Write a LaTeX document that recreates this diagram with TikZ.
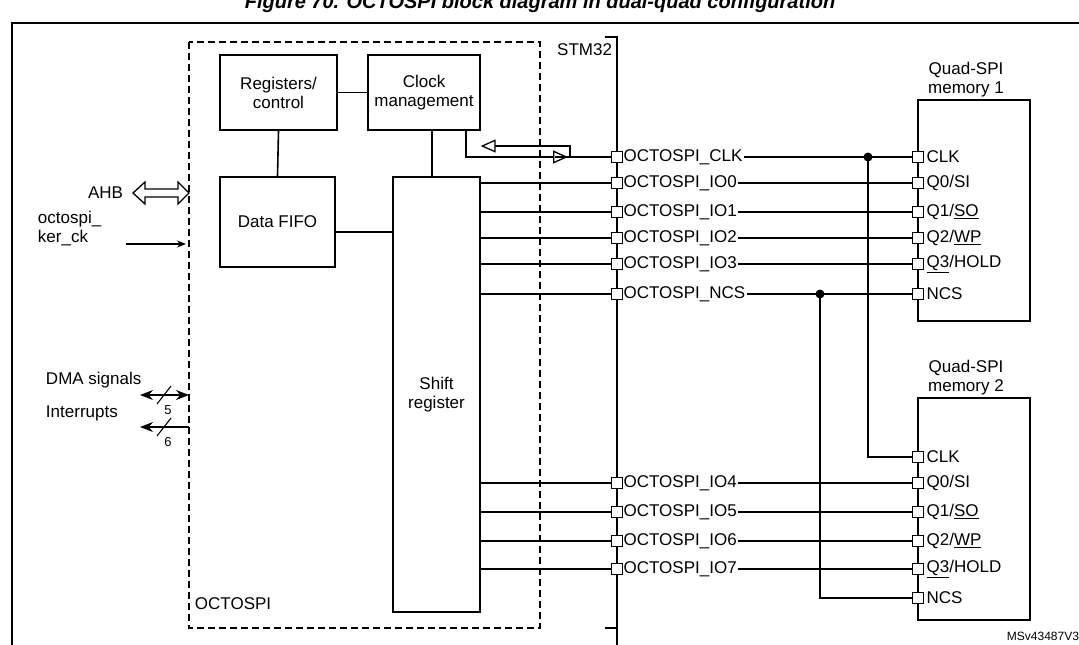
\documentclass[tikz,border=0pt]{standalone}
\usepackage{fontspec}
\setmainfont{Liberation Sans}
\usetikzlibrary{arrows.meta}

\begin{document}
\begin{tikzpicture}[x=1pt,y=-1pt, line width=1.3pt,
    font={\fontsize{17}{19}\selectfont},
    blk/.style={draw, align=center, inner sep=0pt},
    pin/.style={draw, fill=white, line width=1pt, minimum size=11pt, inner sep=0pt},
    sig/.style={anchor=west, inner sep=1pt},
    tri/.style={-{Triangle[open,length=15pt,width=13pt]}}]
    \clip (0,0) rectangle (1079,645);
    \useasboundingbox (0,0) rectangle (1079,645);

    \node[font={\fontsize{20}{22}\selectfont\bfseries\itshape}] (title) at (540,3) {Figure 70. OCTOSPI block diagram in dual-quad configuration};
    \draw (12,660) -- (12,23) -- (1090,23);

    % OCTOSPI block
    \draw[dash pattern=on 7pt off 4pt] (189,42) rectangle (540,628);
    \node[anchor=south west] (octo) at (191,614) {OCTOSPI};
    \node[blk, minimum width=117pt, minimum height=75pt] (regs) at (278.5,92.5) {Registers/\\control};
    \node[blk, minimum width=112pt, minimum height=75pt] (clk) at (424,92.5) {Clock\\management};
    \node[blk, minimum width=115pt, minimum height=90pt] (fifo) at (277.5,222) {Data FIFO};
    \node[blk, minimum width=87pt, minimum height=435pt] (shift) at (436.5,394.5) {Shift\\register};
    \draw[line width=1.6pt] (regs.east) -- (clk.west);
    \draw[line width=1.6pt] (regs.south) -- (fifo.north);
    \draw (clk.south -| 432,0) -- (shift.north -| 432,0);
    \draw (fifo.east |- 0,232) -- (shift.west |- 0,232);

    % STM32 boundary
    \draw (605,37) -- (617,37) -- (617,660);
    \draw (605,628) -- (617,628);
    \node[anchor=north east] (stm) at (616,40) {STM32};

    % STM32 pins
    \foreach \nm/\yy in {CLK/157, IO0/183, IO1/212, IO2/238, IO3/264, NCS/294, IO4/483, IO5/512, IO6/541, IO7/569} {
        \node[pin] (p\nm) at (617,\yy) {};
        \node[sig] (l\nm) at (622,\yy) {OCTOSPI\_\nm};
    }
    \foreach \nm in {IO0, IO1, IO2, IO3, NCS, IO4, IO5, IO6, IO7}
        \draw (shift.east |- p\nm) -- (p\nm);

    % clock feedback
    \coordinate (ckA) at (466,130);
    \coordinate (ckB) at (570,157);
    \draw[tri] (ckA) -- (466,157) -- (568,157);
    \draw (555,157) -- (pCLK);
    \draw[tri] (ckB) -- (570,146) -- (clk.east |- 0,146);

    % memories
    \node[draw, minimum width=112pt, minimum height=221pt] (mem1) at (974,210.5) {};
    \node[draw, minimum width=112pt, minimum height=222pt] (mem2) at (974,509) {};
    \node[align=center] (m1t) at (966,80) {Quad-SPI\\memory 1};
    \node[align=center] (m2t) at (966,378) {Quad-SPI\\memory 2};
    \foreach \mm/\nm/\yy/\tx in {a/CLK/157/CLK, a/IO0/183/{Q0/SI}, a/IO1/212/{Q1/\underline{SO}}, a/IO2/238/{Q2/\underline{WP}}, a/IO3/264/{\underline{Q3}/HOLD}, a/NCS/294/NCS,
        b/CLK/457/CLK, b/IO4/483/{Q0/SI}, b/IO5/512/{Q1/\underline{SO}}, b/IO6/541/{Q2/\underline{WP}}, b/IO7/569/{\underline{Q3}/HOLD}, b/NCS/598/NCS} {
        \node[pin] (q\mm\nm) at (918,\yy) {};
        \node[sig] (t\mm\nm) at (925,\yy) {\tx};
    }
    \foreach \nm in {CLK, IO0, IO1, IO2, IO3, NCS}
        \draw (l\nm.east) -- (qa\nm);
    \foreach \nm in {IO4, IO5, IO6, IO7}
        \draw (l\nm.east) -- (qb\nm);
    \coordinate (dotC) at (868,157);
    \coordinate (dotN) at (820,294);
    \fill (dotC) circle (4.5pt);
    \fill (dotN) circle (4.5pt);
    \draw (dotC) -- (dotC |- qbCLK) -- (qbCLK);
    \draw (dotN) -- (dotN |- qbNCS) -- (qbNCS);

    % left side signals
    \node[anchor=east] (ahb) at (127,193) {AHB};
    \draw (133,193) -- (145,182) -- (145,189) -- (178,189) -- (178,182) -- (189,193)
        -- (178,204) -- (178,197) -- (145,197) -- (145,204) -- cycle;
    \node[align=left, anchor=west] (ker) at (34,229) {octospi\_\\ker\_ck};
    \coordinate (kerE) at (186,244);
    \draw[line width=1.2pt, -{Stealth[length=9pt,width=7pt]}] (126,244) -- (kerE);
    \node[anchor=west] (dma) at (42,380) {DMA signals};
    \draw[line width=1.6pt, {Stealth[length=13pt,width=10pt]}-{Stealth[length=13pt,width=10pt]}] (140,395) -- (189,395);
    \draw[line width=1.1pt] (157,404) -- (171,386);
    \node[font={\fontsize{13}{15}\selectfont}] (n5) at (168,410) {5};
    \node[anchor=west] (irq) at (42,413) {Interrupts};
    \draw[line width=1.6pt, {Stealth[length=13pt,width=10pt]}-] (140,427) -- (189,427);
    \draw[line width=1.1pt] (157,436) -- (171,418);
    \node[font={\fontsize{13}{15}\selectfont}] (n6) at (168,442) {6};

    \node[anchor=east, font={\fontsize{12}{14}\selectfont}] (ref) at (1083,636) {MSv43487V3};
\end{tikzpicture}
\end{document}
